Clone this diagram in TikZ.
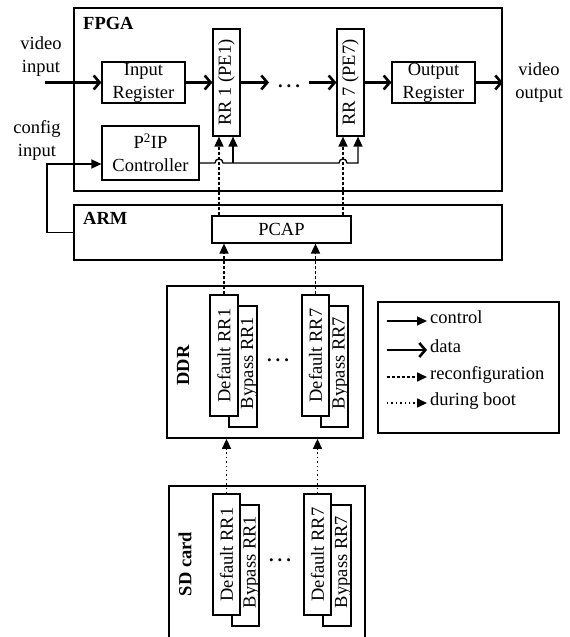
\documentclass[tikz,border=0pt]{standalone}
\usepackage{fontspec}
\setmainfont{Liberation Serif}
\usetikzlibrary{arrows.meta}

\newcommand{\figfont}{\fontsize{18.5}{23}\selectfont}

\tikzset{
  outer/.style={draw, line width=1.8pt, inner sep=0pt},
  blk/.style={draw, line width=1.2pt, fill=white, inner sep=0pt, align=center},
  txt/.style={inner sep=0pt, align=center},
  ttl/.style={inner sep=0pt, font=\figfont\bfseries},
  dotsnode/.style={inner sep=0pt, font=\figfont\bfseries},
  data/.style={line width=2.6pt, -{Straight Barb[length=6pt,width=14pt,line width=2.6pt]}},
  ctrl/.style={line width=1.3pt, -{Triangle[length=10pt,width=9pt]}},
  reconf/.style={line width=1.6pt, dash pattern=on 3pt off 2pt, -{Triangle[length=10pt,width=9pt]}},
  boot/.style={line width=1.6pt, dash pattern=on 1.4pt off 3pt, -{Triangle[length=10pt,width=9pt]}},
}

\begin{document}
\begin{tikzpicture}[x=1pt, y=-1pt, font=\figfont]
\useasboundingbox (0,0) rectangle (570,637);

% ---------------- FPGA ----------------
\node[outer, minimum width=428, minimum height=183] (fpga) at (288,99.5) {};
\node[ttl, anchor=west] (fpgat) at (83,23) {FPGA};

\node[blk, minimum width=83, minimum height=41] (inreg) at (143.5,82.5) {Input\\Register};
\node[blk, minimum width=27, minimum height=107] (rr1) at (226.5,82.5) {};
\node[txt, rotate=90] (rr1t) at (rr1) {RR 1 (PE1)};
\node[blk, minimum width=27, minimum height=107] (rr7) at (350.5,82.5) {};
\node[txt, rotate=90] (rr7t) at (rr7) {RR 7 (PE7)};
\node[blk, minimum width=83, minimum height=41] (outreg) at (433.5,82.5) {Output\\Register};
\node[blk, minimum width=97, minimum height=54] (p2ip) at (150.5,153) {P\textsuperscript{2}IP\\Controller};
\node[dotsnode] (rdots) at (289,86) {.\hspace{4pt}.\hspace{4pt}.};

\node[txt] (vin) at (41,57) {video\\input};
\node[txt] (vout) at (539,83) {video\\output};
\node[txt] (cin) at (37,140) {config\\input};

% ---------------- ARM ----------------
\node[outer, minimum width=428, minimum height=55] (arm) at (288,232.5) {};
\node[ttl, anchor=west] (armt) at (83,218) {ARM};
\node[blk, minimum width=139, minimum height=27] (pcap) at (281.5,229.5) {PCAP};

% ---------------- DDR ----------------
\node[outer, minimum width=196, minimum height=152] (ddr) at (265,362) {};
\node[ttl, rotate=90] (ddrt) at (183,365.5) {DDR};
\node[blk, minimum width=28, minimum height=121] (ddrb1) at (243,366.5) {};
\node[txt, rotate=90] at (249,363) {Bypass RR1};
\node[blk, minimum width=28, minimum height=121] (ddrd1) at (224,355.5) {};
\node[txt, rotate=90] at (ddrd1) {Default RR1};
\node[blk, minimum width=27, minimum height=121] (ddrb7) at (334.5,366.5) {};
\node[txt, rotate=90] at (340.5,363) {Bypass RR7};
\node[blk, minimum width=27, minimum height=121] (ddrd7) at (315.5,355.5) {};
\node[txt, rotate=90] at (ddrd7) {Default RR7};
\node[dotsnode] (ddots) at (278,360) {.\hspace{4pt}.\hspace{4pt}.};

% ---------------- SD card ----------------
\node[outer, minimum width=196, minimum height=170] (sd) at (267,571) {};
\node[ttl, rotate=90] (sdt) at (185,564) {SD card};
\node[blk, minimum width=27, minimum height=121] (sdb1) at (245.5,565.5) {};
\node[txt, rotate=90] at (251.5,562) {Bypass RR1};
\node[blk, minimum width=27, minimum height=121] (sdd1) at (226.5,554.5) {};
\node[txt, rotate=90] at (sdd1) {Default RR1};
\node[blk, minimum width=28, minimum height=121] (sdb7) at (337,565.5) {};
\node[txt, rotate=90] at (343,562) {Bypass RR7};
\node[blk, minimum width=27, minimum height=121] (sdd7) at (317.5,554.5) {};
\node[txt, rotate=90] at (sdd7) {Default RR7};
\node[dotsnode] (sdots) at (280,560) {.\hspace{4pt}.\hspace{4pt}.};

% ---------------- data path ----------------
\coordinate (vinS) at (45,82.5);
\coordinate (d1E) at (269,82.5);
\coordinate (d7S) at (309,82.5);
\coordinate (voutE) at (503,82.5);
\draw[data] (vinS) -- (inreg.west);
\draw[data] (inreg.east) -- (rr1.west);
\draw[data] (rr1.east) -- (d1E);
\draw[data] (d7S) -- (rr7.west);
\draw[data] (rr7.east) -- (outreg.west);
\draw[data] (outreg.east) -- (voutE);

% ---------------- control ----------------
\coordinate (bend) at (47,232.5);
\draw[ctrl] (arm.west) -- (bend) |- ([yshift=-11pt]p2ip.west);
\coordinate (c1) at ([xshift=6.5pt]rr1.south);
\coordinate (c7) at ([xshift=7.5pt]rr7.south);
\draw[ctrl] ([yshift=-10pt]p2ip.east) -- (215,163)
  .. controls (215,157.7) and (223,157.7) .. (223,163) -- (339,163)
  .. controls (339,157.7) and (347,157.7) .. (347,163) -- (c7 |- 0,163) -- (c7);
\draw[ctrl] (c1 |- 0,163) -- (c1);

% ---------------- reconfiguration ----------------
\coordinate (r1) at ([xshift=-7.5pt]rr1.south);
\coordinate (r7) at ([xshift=-7.5pt]rr7.south);
\draw[reconf] (r1 |- pcap.north) -- (r1);
\draw[reconf] (r7 |- pcap.north) -- (r7);
\draw[reconf] (ddrd1.north) -- (ddrd1.north |- pcap.south);
\draw[reconf] (ddrd7.north) -- (ddrd7.north |- pcap.south);

% ---------------- boot ----------------
\draw[boot] (sdd1.north) -- (sdd1.north |- ddr.south);
\draw[boot] (sdd7.north) -- (sdd7.north |- ddr.south);

% ---------------- legend ----------------
\node[draw, line width=1.2pt, minimum width=181, minimum height=131, inner sep=0pt] (leg) at (468.5,367.5) {};
\foreach \yy/\sty/\lab [count=\i] in {321/ctrl/control, 350/data/data, 377/reconf/reconfiguration, 403/boot/during boot}{
  \coordinate (ls\i) at (387,\yy);
  \coordinate (le\i) at (427,\yy);
  \draw[\sty] (ls\i) -- (le\i);
  \node[txt, anchor=west, text height=1.45ex, text depth=0.3ex] (lt\i) at (430,\yy) {\lab};
}
\end{tikzpicture}
\end{document}
